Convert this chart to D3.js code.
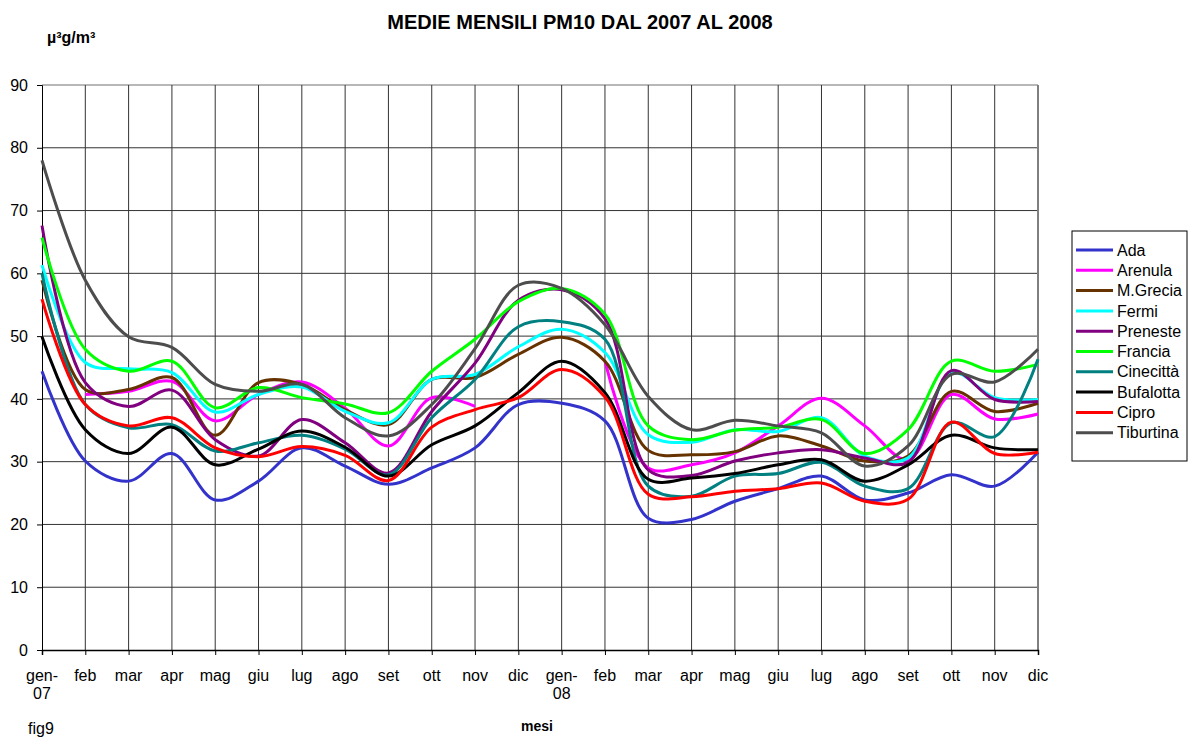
<!DOCTYPE html>
<html lang="it">
<head>
    <meta charset="UTF-8">
    <title>Medie mensili PM10 dal 2007 al 2008</title>
    <script src="https://d3js.org/d3.v7.min.js"></script>
    <style>
        body { margin: 0; background: #fff; }
        text { font-family: "Liberation Sans", Arial, sans-serif; }
    </style>
</head>
<body>
    <svg width="1188" height="738"></svg>

    <script>
        // Month labels (two lines where the year is shown)
        const months = ["gen-|07", "feb", "mar", "apr", "mag", "giu", "lug", "ago", "set", "ott", "nov", "dic",
                        "gen-|08", "feb", "mar", "apr", "mag", "giu", "lug", "ago", "set", "ott", "nov", "dic"];
        const yTicks = [0, 10, 20, 30, 40, 50, 60, 70, 80, 90];

        // Monthly values per station (µg/m³), null = missing month
        const ada       = [44.4, 30.1, 26.9, 31.3, 23.9, 26.9, 32.2, 29.3, 26.4, 29.0, 32.2, 39.1, 39.3, 36.5, 21.0, 20.8, 23.7, 25.7, 27.7, 23.9, 25.0, 27.9, 26.1, 31.5];
        const arenula   = [null, 40.7, 41.2, 42.8, 36.5, 40.7, 42.7, 38.5, 32.5, 40.2, 38.8, null, null, 46.0, 29.0, 29.5, 31.4, 35.7, 40.1, 35.7, 30.3, 40.7, 36.8, 37.6];
        const mgrecia   = [58.9, 41.5, 41.5, 43.4, 34.2, 42.6, 42.3, 38.3, 35.9, 43.1, 43.4, 47.1, 49.8, 46.0, 31.8, 31.1, 31.6, 34.1, 32.5, 30.1, 30.9, 41.2, 38.0, 39.3];
        const fermi     = [61.3, 45.8, 44.8, 44.2, 37.9, 40.7, 41.9, 38.0, 36.2, 43.1, 43.9, 48.3, 51.1, 47.4, 34.3, 33.1, 35.1, 34.8, 37.0, 30.9, 30.6, 44.2, 40.2, 39.9];
        const preneste  = [67.6, 42.6, 38.8, 41.4, 33.5, 30.9, 36.7, 33.0, 28.2, 38.0, 45.7, 55.7, 57.4, 52.8, 28.7, 27.8, 30.1, 31.4, 31.9, 30.6, 29.9, 44.5, 39.9, 39.6];
        const francia   = [65.7, 47.9, 44.4, 46.0, 38.6, 41.8, 40.2, 39.2, 37.8, 44.4, 49.5, 55.5, 57.6, 53.5, 35.7, 33.5, 35.0, 35.5, 36.7, 31.3, 35.1, 46.0, 44.4, 45.5];
        const cinecitta = [60.0, 39.1, 35.4, 35.9, 31.7, 33.0, 34.2, 32.0, 27.9, 37.0, 43.1, 51.5, 52.3, 49.5, 26.1, 24.5, 27.7, 28.1, 29.9, 26.1, 25.7, 36.2, 34.0, 46.3];
        const bufalotta = [49.9, 35.1, 31.3, 35.5, 29.5, 32.0, 34.9, 32.3, 27.7, 32.7, 35.7, 41.0, 46.0, 41.0, 27.2, 27.4, 28.1, 29.5, 30.3, 26.9, 29.5, 34.2, 32.2, 31.9];
        const cipro     = [55.9, 39.1, 35.7, 37.0, 32.2, 30.8, 32.4, 31.0, 27.0, 35.5, 38.3, 40.2, 44.7, 40.3, 24.8, 24.4, 25.3, 25.7, 26.6, 23.7, 24.0, 36.3, 31.3, 31.5];
        const tiburtina = [78.0, 58.9, 49.9, 48.2, 42.3, 41.2, 42.3, 37.0, 34.1, 39.1, 48.0, 58.1, 57.6, 51.8, 40.4, 35.1, 36.6, 35.7, 34.6, 29.3, 32.5, 43.9, 42.7, 47.9];

        const seriesNames = ["Ada", "Arenula", "M.Grecia", "Fermi", "Preneste", "Francia", "Cinecittà", "Bufalotta", "Cipro", "Tiburtina"];
        const seriesValues = [ada, arenula, mgrecia, fermi, preneste, francia, cinecitta, bufalotta, cipro, tiburtina];
        const seriesColors = ["#3333CC", "#FF00FF", "#663300", "#00FFFF", "#800080", "#00FF00", "#008080", "#000000", "#FF0000", "#4D4D4D"];

        const margin = {top: 85, right: 150, bottom: 88, left: 42};
        const width = 1188, height = 738;

        const svg = d3.select("svg");

        // x: one point per month, first and last on the plot edges
        const x = d3.scalePoint()
            .domain(d3.range(months.length))
            .range([margin.left, width - margin.right]);

        const y = d3.scaleLinear()
            .domain([0, 90])
            .range([height - margin.bottom, margin.top]);

        // Horizontal gridlines
        svg.append("g")
            .selectAll("line")
            .data(yTicks.slice(1))
            .join("line")
            .attr("x1", margin.left)
            .attr("x2", width - margin.right)
            .attr("y1", d => y(d))
            .attr("y2", d => y(d))
            .attr("stroke", d => d === 90 ? "#a0a0a0" : "#333")
            .attr("stroke-width", d => d === 90 ? 1.5 : 1);

        // Vertical gridlines
        svg.append("g")
            .selectAll("line")
            .data(d3.range(1, months.length))
            .join("line")
            .attr("x1", d => x(d))
            .attr("x2", d => x(d))
            .attr("y1", y(90))
            .attr("y2", y(0))
            .attr("stroke", d => d === months.length - 1 ? "#808080" : "#333")
            .attr("stroke-width", d => d === months.length - 1 ? 2 : 1);

        // Y axis
        const yAxis = svg.append("g")
            .attr("transform", `translate(${margin.left},0)`)
            .call(d3.axisLeft(y).tickValues(yTicks).tickSize(5).tickPadding(9));
        yAxis.select(".domain").attr("stroke", "#000");
        yAxis.selectAll("text").attr("font-size", "16px").attr("fill", "#000");

        // X axis with ticks, labels drawn separately (two-line labels)
        const xAxis = svg.append("g")
            .attr("transform", `translate(0,${y(0)})`)
            .call(d3.axisBottom(x).tickSize(5).tickFormat(""));
        xAxis.select(".domain").attr("stroke", "#000").attr("stroke-width", 1.5);

        const xLabels = svg.append("g")
            .selectAll("text")
            .data(months)
            .join("text")
            .attr("x", (d, i) => x(i))
            .attr("y", y(0) + 31)
            .attr("text-anchor", "middle")
            .attr("font-size", "16px");
        xLabels.each(function(d) {
            const parts = d.split("|");
            const t = d3.select(this);
            parts.forEach((p, k) => {
                t.append("tspan")
                    .attr("x", t.attr("x"))
                    .attr("dy", k === 0 ? 0 : 18)
                    .text(p);
            });
        });

        // Lines
        const line = d3.line()
            .defined(d => d != null)
            .x((d, i) => x(i))
            .y(d => y(d))
            .curve(d3.curveCatmullRom.alpha(0.5));

        svg.append("g")
            .selectAll("path")
            .data(seriesValues)
            .join("path")
            .attr("d", d => line(d))
            .attr("fill", "none")
            .attr("stroke", (d, i) => seriesColors[i])
            .attr("stroke-width", 3)
            .attr("stroke-linejoin", "round");

        // Titles
        svg.append("text")
            .attr("x", 580)
            .attr("y", 29)
            .attr("text-anchor", "middle")
            .attr("font-size", "20px")
            .attr("font-weight", "bold")
            .text("MEDIE MENSILI PM10 DAL 2007 AL 2008");

        svg.append("text")
            .attr("x", 47)
            .attr("y", 43)
            .attr("font-size", "16px")
            .attr("font-weight", "bold")
            .text("µ³g/m³");

        svg.append("text")
            .attr("x", 537)
            .attr("y", 731)
            .attr("text-anchor", "middle")
            .attr("font-size", "14px")
            .attr("font-weight", "bold")
            .text("mesi");

        svg.append("text")
            .attr("x", 28)
            .attr("y", 734)
            .attr("font-size", "16px")
            .text("fig9");

        // Legend
        const legend = svg.append("g").attr("transform", "translate(1072,231)");
        legend.append("rect")
            .attr("width", 115)
            .attr("height", 230)
            .attr("fill", "#fff")
            .attr("stroke", "#000")
            .attr("stroke-width", 1);
        const items = legend.selectAll("g.item")
            .data(seriesNames)
            .join("g")
            .attr("class", "item")
            .attr("transform", (d, i) => `translate(0,${19 + i * 20.3})`);
        items.append("line")
            .attr("x1", 4).attr("x2", 41)
            .attr("stroke", (d, i) => seriesColors[i])
            .attr("stroke-width", 3);
        items.append("text")
            .attr("x", 45)
            .attr("dy", "0.35em")
            .attr("font-size", "16px")
            .text(d => d);
    </script>
</body>
</html>
